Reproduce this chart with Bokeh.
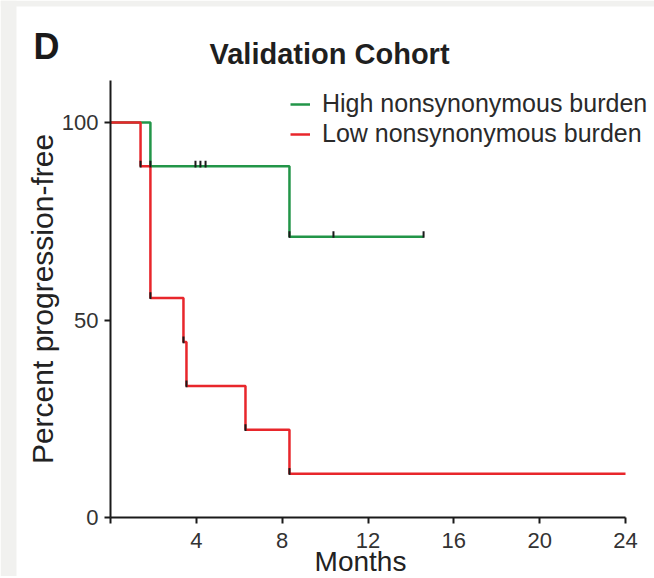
from bokeh.plotting import figure
from bokeh.models import Label, Legend, LegendItem, FixedTicker, Range1d, BoxAnnotation
from bokeh.embed import file_html
from bokeh.resources import INLINE
import numpy as np

# ---- data ----
high_time = [0, 1.86, 8.34, 14.59]
high_surv = [100, 88.9, 71.1, 71.1]
low_time = [0, 1.40, 1.86, 3.40, 3.54, 6.29, 8.34, 24.0]
low_surv = [100, 88.9, 55.6, 44.4, 33.3, 22.2, 11.1, 11.1]
high_censor_time = [3.96, 4.19, 4.43, 10.39, 14.59]
high_censor_surv = [88.9, 88.9, 88.9, 71.1, 71.1]
x_ticks = [0, 4, 8, 12, 16, 20, 24]
y_ticks = [0, 50, 100]
high_label = "High nonsynonymous burden"
low_label = "Low nonsynonymous burden"

GREEN = "#229548"
RED = "#e8262b"
INK = "#1a1a1a"
FONT = "Liberation Sans"
PAGE_GREY = "#f1f1ef"

# ---- layout (pixels on the canvas) ----
W, H = 654, 576
X0_PX, X24_PX = 110, 625      # where month 0 / month 24 sit
Y0_PX, Y100_PX = 517, 122     # where 0 % / 100 % sit
ppx = (X24_PX - X0_PX) / 24.0
ppy = (Y0_PX - Y100_PX) / 100.0
x_range = Range1d(-X0_PX / ppx, 24 + (W - X24_PX) / ppx)
y_range = Range1d(-(H - Y0_PX) / ppy, 100 + Y100_PX / ppy)

p = figure(width=W, height=H, x_range=x_range, y_range=y_range,
           output_backend="svg", toolbar_location=None,
           min_border_left=0, min_border_right=0, min_border_top=0, min_border_bottom=0)
p.xgrid.visible = False
p.ygrid.visible = False
p.outline_line_color = None
p.background_fill_color = "white"
p.border_fill_color = "white"

# grey page edge seen at the top and left of the reference
p.add_layout(BoxAnnotation(left=0, right=16, bottom=0, top=H, left_units="screen",
                           right_units="screen", bottom_units="screen", top_units="screen",
                           fill_color=PAGE_GREY, fill_alpha=1, line_color=None, level="underlay"))
p.add_layout(BoxAnnotation(left=0, right=W, bottom=H - 6, top=H, left_units="screen",
                           right_units="screen", bottom_units="screen", top_units="screen",
                           fill_color=PAGE_GREY, fill_alpha=1, line_color=None, level="underlay"))

for ax in (p.xaxis[0], p.yaxis[0]):
    ax.fixed_location = 0
    ax.axis_line_width = 2
    ax.axis_line_color = INK
    ax.major_tick_line_width = 2
    ax.major_tick_line_color = INK
    ax.major_tick_out = 6
    ax.major_tick_in = 0
    ax.minor_tick_line_color = None
    ax.major_label_text_font = FONT
    ax.major_label_text_font_size = "22px"
    ax.major_label_text_color = "#333333"

p.xaxis.bounds = (0, 24)
p.xaxis.ticker = FixedTicker(ticks=x_ticks)
p.xaxis.major_label_overrides = {0: ""}
p.xaxis.major_label_standoff = 9
p.yaxis.bounds = (0, (Y0_PX - 80) / ppy)
p.yaxis.ticker = FixedTicker(ticks=y_ticks)
p.yaxis.major_label_standoff = 6
p.yaxis.axis_label = "Percent progression-free"
p.yaxis.axis_label_text_font = FONT
p.yaxis.axis_label_text_font_size = "30px"
p.yaxis.axis_label_text_font_style = "normal"
p.yaxis.axis_label_text_color = "#222222"
p.yaxis.axis_label_standoff = 0

r_high = p.step(high_time, high_surv, mode="after", line_color=GREEN, line_width=2.5)
r_low = p.step(low_time, low_surv, mode="after", line_color=RED, line_width=2.5)

# tick marks at events (step corners) and censored observations
ev_t = np.array(high_time[1:-1] + low_time[1:-1] + high_censor_time)
ev_s = np.array(high_surv[1:-1] + low_surv[1:-1] + high_censor_surv)
p.segment(x0=ev_t, y0=ev_s - 0.3, x1=ev_t, y1=ev_s + 1.4, line_color=INK, line_width=2)

legend = Legend(items=[LegendItem(label=high_label, renderers=[r_high]),
                       LegendItem(label=low_label, renderers=[r_low])],
                location=(290, H - 148), glyph_width=20, glyph_height=20, label_standoff=12,
                padding=0, margin=0, spacing=1, background_fill_alpha=0, border_line_alpha=0,
                label_text_font=FONT, label_text_font_size="25px", label_text_color="#2a2a2a")
p.add_layout(legend)

p.add_layout(Label(x=33, y=H - 46, x_units="screen", y_units="screen", text="D",
                   text_font=FONT, text_font_style="bold", text_font_size="36px",
                   text_color="#1a1a1a", text_align="left", text_baseline="alphabetic"))
p.add_layout(Label(x=209, y=H - 53, x_units="screen", y_units="screen", text="Validation Cohort",
                   text_font=FONT, text_font_style="bold", text_font_size="29px",
                   text_color="#1f1f1f", text_align="left", text_baseline="alphabetic"))
p.add_layout(Label(x=360, y=15, x_units="screen", y_units="screen", text="Months",
                   text_font=FONT, text_font_size="28px", text_color="#222222",
                   text_align="center", text_baseline="alphabetic"))

open("out.html", "w").write(file_html(p, INLINE))
